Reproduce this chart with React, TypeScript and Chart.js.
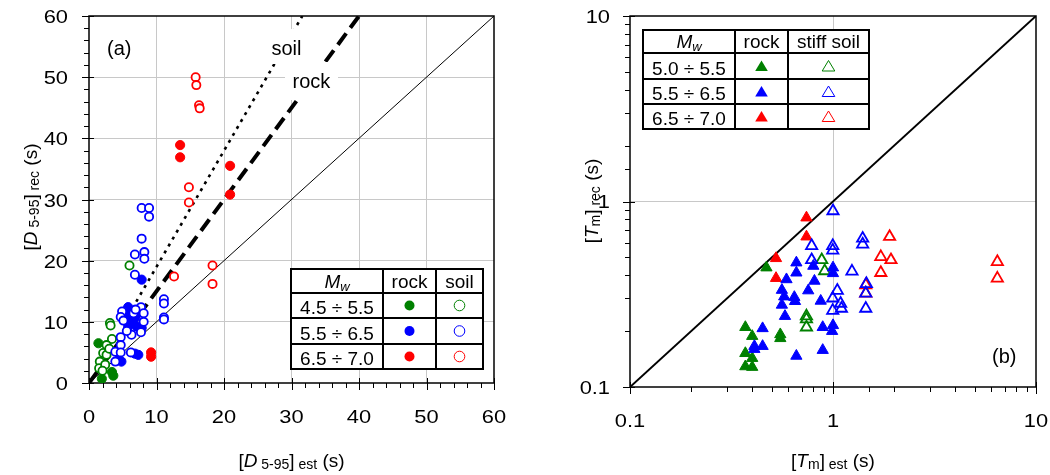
import React, { useEffect, useRef } from 'react';
import { Chart, registerables } from 'chart.js';

Chart.register(...registerables);

type Pt = [number, number];
type Part = { t: string; size: number; italic?: boolean; dy?: number };

const GREEN = '#008000';
const BLUE = '#0000ff';
const RED = '#ff0000';
const GRID = '#c8c8c8';
const FONT = '"Liberation Sans", Arial, Helvetica, sans-serif';

// ---------- Panel (a): [D5-95] est vs [D5-95] rec (s) ----------
const aTickValues = [0, 10, 20, 30, 40, 50, 60];
const aTickLabels = ['0', '10', '20', '30', '40', '50', '60'];

const aRockGreen: Pt[] = [[1.4, 6.5], [1.9, 0.7], [3.4, 1.8], [3.6, 1.2]];
const aSoilGreen: Pt[] = [
  [6.0, 19.2], [3.1, 9.8], [3.2, 9.4], [3.4, 7.2], [2.6, 6.2], [2.1, 4.9],
  [2.6, 4.6], [1.6, 3.5], [1.5, 2.4], [2.4, 3.0], [3.0, 5.6], [2.0, 2.0],
];
const aRockBlue: Pt[] = [
  [7.8, 16.9], [5.8, 12.4], [6.3, 11.7], [6.6, 9.8], [5.8, 9.2], [7.1, 9.2],
  [7.8, 9.0], [7.3, 4.6], [6.8, 4.8], [4.8, 3.5], [5.5, 10.5], [6.9, 10.8],
  [4.4, 3.8], [6.0, 11.0],
];
const aSoilBlue: Pt[] = [
  [7.8, 28.6], [8.9, 28.6], [8.9, 27.2], [7.8, 23.6], [6.8, 21.0], [8.2, 21.4],
  [8.2, 20.3], [6.8, 17.7], [11.1, 13.7], [11.1, 13.0], [11.1, 10.7], [11.1, 10.4],
  [4.9, 11.7], [4.7, 10.8], [5.1, 10.2], [6.6, 11.4], [7.7, 12.4], [8.1, 11.4],
  [8.1, 10.0], [7.7, 8.3], [6.3, 7.9], [4.7, 7.5], [4.7, 6.2], [3.9, 5.1],
  [4.7, 5.0], [6.2, 5.0], [3.9, 3.5], [5.6, 8.5], [6.9, 12.0],
];
const aRockRed: Pt[] = [[13.5, 38.9], [13.5, 36.9], [20.9, 35.5], [20.9, 30.8], [9.2, 5.0], [9.2, 4.3]];
const aSoilRed: Pt[] = [
  [15.8, 50.0], [15.9, 48.7], [16.3, 45.4], [16.4, 44.9], [14.8, 32.0],
  [14.8, 29.5], [12.6, 17.4], [18.3, 19.2], [18.3, 16.2],
];
const aOneToOne: Pt[] = [[0, 0], [60, 60]];
const aRockFit: Pt[] = [[0, 0], [40, 60]];
const aSoilFit: Pt[] = [[7, 13.3], [31.6, 60]];

const aLegendHeads = ['rock', 'soil'];
const aLegendRows = ['4.5 ÷ 5.5', '5.5 ÷ 6.5', '6.5 ÷ 7.0'];

// ---------- Panel (b): [Tm] est vs [Tm] rec (s) ----------
const bTickValues = [0.1, 1, 10];
const bTickLabels = ['0.1', '1', '10'];

const bRockGreen: Pt[] = [
  [0.47, 0.44], [0.37, 0.21], [0.40, 0.188], [0.37, 0.152], [0.40, 0.143],
  [0.37, 0.129], [0.40, 0.128], [0.55, 0.192], [0.55, 0.183],
];
const bSoilGreen: Pt[] = [[0.74, 0.241], [0.74, 0.232], [0.74, 0.21], [0.88, 0.484], [0.91, 0.422]];
const bRockBlue: Pt[] = [
  [0.66, 0.468], [0.66, 0.413], [0.59, 0.38], [0.56, 0.333], [0.575, 0.307],
  [0.645, 0.305], [0.65, 0.29], [0.56, 0.277], [0.58, 0.241], [0.81, 0.373],
  [0.755, 0.331], [0.87, 0.291], [0.80, 0.449], [1.0, 0.44], [1.0, 0.41],
  [0.89, 0.21], [1.0, 0.215], [0.99, 0.2], [0.89, 0.158], [0.66, 0.147],
  [0.45, 0.207], [0.45, 0.166], [0.41, 0.166], [0.41, 0.16],
];
const bSoilBlue: Pt[] = [
  [1.0, 0.889], [0.785, 0.577], [0.997, 0.577], [0.997, 0.545], [1.40, 0.632],
  [1.40, 0.588], [0.785, 0.484], [1.24, 0.42], [1.05, 0.331], [0.997, 0.301],
  [1.09, 0.282], [1.1, 0.265], [0.997, 0.258], [1.46, 0.36], [1.45, 0.32], [1.45, 0.265],
];
const bRockRed: Pt[] = [[0.74, 0.818], [0.74, 0.646], [0.524, 0.494], [0.524, 0.386]];
const bSoilRed: Pt[] = [
  [1.9, 0.646], [1.72, 0.503], [1.93, 0.484], [1.72, 0.413], [1.45, 0.354],
  [1.45, 0.32], [6.45, 0.473], [6.45, 0.385],
];
const bOneToOne: Pt[] = [[0.1, 0.1], [10, 10]];

const bLegendHeads = ['rock', 'stiff soil'];
const bLegendRows = ['5.0 ÷ 5.5', '5.5 ÷ 6.5', '6.5 ÷ 7.0'];

const aXTitle: Part[] = [
  { t: '[', size: 19 }, { t: 'D', size: 19, italic: true }, { t: ' 5-95', size: 14, dy: 2 },
  { t: ']', size: 19 }, { t: ' est', size: 14, dy: 2 }, { t: ' (s)', size: 19 },
];
const aYTitle: Part[] = [
  { t: '[', size: 19 }, { t: 'D', size: 19, italic: true }, { t: ' 5-95', size: 14, dy: 2 },
  { t: ']', size: 19 }, { t: ' rec', size: 14, dy: 2 }, { t: ' (s)', size: 19 },
];
const bXTitle: Part[] = [
  { t: '[', size: 19 }, { t: 'T', size: 19, italic: true }, { t: 'm', size: 14, dy: 2 },
  { t: ']', size: 19 }, { t: ' est', size: 14, dy: 2 }, { t: ' (s)', size: 19 },
];
const bYTitle: Part[] = [
  { t: '[', size: 19 }, { t: 'T', size: 19, italic: true }, { t: 'm', size: 14, dy: 2 },
  { t: ']', size: 19 }, { t: ' rec', size: 14, dy: 2 }, { t: ' (s)', size: 19 },
];

// ---------- helpers ----------
const toXY = (pts: Pt[]) => pts.map(([x, y]) => ({ x, y }));
const fontOf = (p: Part) => `${p.italic ? 'italic ' : ''}${p.size}px ${FONT}`;

function drawRich(ctx: CanvasRenderingContext2D, parts: Part[], x: number, y: number, rotate: boolean, sx = 1) {
  ctx.save();
  ctx.translate(x, y);
  if (rotate) ctx.rotate(-Math.PI / 2);
  ctx.scale(sx, 1);
  const widths = parts.map((p) => { ctx.font = fontOf(p); return ctx.measureText(p.t).width; });
  const total = widths.reduce((a, b) => a + b, 0);
  let cx = -total / 2;
  ctx.fillStyle = '#000';
  ctx.textAlign = 'left';
  ctx.textBaseline = 'alphabetic';
  parts.forEach((p, i) => { ctx.font = fontOf(p); ctx.fillText(p.t, cx, p.dy || 0); cx += widths[i]; });
  ctx.restore();
}

function pointSet(pts: Pt[], color: string, filled: boolean, style: 'circle' | 'triangle') {
  const circle = style === 'circle';
  return {
    type: 'scatter' as const,
    data: toXY(pts),
    showLine: false,
    pointStyle: style,
    pointRadius: circle ? (filled ? 4.6 : 4.1) : 6.5,
    pointBackgroundColor: filled ? color : (circle ? '#ffffff' : 'rgba(0,0,0,0)'),
    backgroundColor: filled ? color : (circle ? '#ffffff' : 'rgba(0,0,0,0)'),
    pointBorderColor: color,
    borderColor: color,
    pointBorderWidth: filled ? 1 : 1.8,
    borderWidth: filled ? 1 : 1.8,
    order: 1,
  };
}

function lineSet(pts: Pt[], width: number, dash: number[]) {
  return {
    type: 'scatter' as const,
    data: toXY(pts),
    showLine: true,
    borderColor: '#000',
    backgroundColor: '#000',
    borderWidth: width,
    borderDash: dash,
    pointRadius: 0,
    fill: false,
    order: 10,
  };
}

const isMajorLin = (v: number) => Math.abs(v % 10) < 1e-9;
const isMajorLog = (v: number) => Math.abs(Math.log10(v) - Math.round(Math.log10(v))) < 1e-6;

function drawFrameTicks(chart: any, isMajor: (v: number) => boolean) {
  const { ctx, chartArea: a } = chart;
  const xs = chart.scales.x;
  const ys = chart.scales.y;
  ctx.save();
  ctx.strokeStyle = '#000';
  ctx.lineWidth = 1;
  ctx.beginPath();
  for (const t of xs.ticks) {
    const px = Math.round(xs.getPixelForValue(t.value)) + 0.5;
    const m = isMajor(t.value);
    ctx.moveTo(px, a.bottom + (m ? 7 : 5));
    ctx.lineTo(px, a.bottom - (m ? 5 : 0));
  }
  for (const t of ys.ticks) {
    const py = Math.round(ys.getPixelForValue(t.value)) + 0.5;
    const m = isMajor(t.value);
    ctx.moveTo(a.left - (m ? 7 : 5), py);
    ctx.lineTo(a.left + (m ? 5 : 0), py);
  }
  ctx.stroke();
  ctx.lineWidth = 1.5;
  ctx.strokeRect(a.left, a.top, a.right - a.left, a.bottom - a.top);
  ctx.restore();
}

function drawTickLabels(chart: any, values: number[], labels: string[], xBase: number, yGap: number, yOff: number) {
  const { ctx, chartArea: a } = chart;
  const xs = chart.scales.x;
  const ys = chart.scales.y;
  ctx.save();
  ctx.fillStyle = '#000';
  ctx.font = `19px ${FONT}`;
  ctx.textBaseline = 'alphabetic';
  values.forEach((v, i) => {
    const px = xs.getPixelForValue(v);
    ctx.save();
    ctx.translate(px, xBase);
    ctx.scale(1.15, 1);
    ctx.textAlign = 'center';
    ctx.fillText(labels[i], 0, 0);
    ctx.restore();
    const py = ys.getPixelForValue(v);
    ctx.save();
    ctx.translate(a.left - yGap, py + yOff);
    ctx.scale(1.15, 1);
    ctx.textAlign = 'right';
    ctx.fillText(labels[i], 0, 0);
    ctx.restore();
  });
  ctx.restore();
}

type TableSpec = {
  xs: number[];
  ys: number[];
  heads: string[];
  rows: string[];
  colors: string[];
  marker: 'circle' | 'triangle';
};

function drawMarker(ctx: CanvasRenderingContext2D, kind: 'circle' | 'triangle', filled: boolean, color: string, cx: number, cy: number) {
  ctx.save();
  ctx.beginPath();
  if (kind === 'circle') {
    ctx.arc(cx, cy, filled ? 5 : 5.3, 0, Math.PI * 2);
  } else {
    ctx.moveTo(cx, cy - 5.5);
    ctx.lineTo(cx + 6.3, cy + 5);
    ctx.lineTo(cx - 6.3, cy + 5);
    ctx.closePath();
  }
  if (filled) {
    ctx.fillStyle = color;
    ctx.fill();
  } else {
    ctx.strokeStyle = color;
    ctx.lineWidth = 1;
    ctx.stroke();
  }
  ctx.restore();
}

function drawTable(ctx: CanvasRenderingContext2D, s: TableSpec) {
  const { xs, ys } = s;
  ctx.save();
  ctx.fillStyle = '#fff';
  ctx.fillRect(xs[0], ys[0], xs[3] - xs[0], ys[4] - ys[0]);
  ctx.strokeStyle = '#000';
  ctx.lineWidth = 2;
  ctx.beginPath();
  for (const x of xs) { ctx.moveTo(x, ys[0]); ctx.lineTo(x, ys[4]); }
  for (const y of ys) { ctx.moveTo(xs[0] - 1, y); ctx.lineTo(xs[3] + 1, y); }
  ctx.stroke();
  ctx.fillStyle = '#000';
  ctx.textAlign = 'center';
  ctx.textBaseline = 'alphabetic';
  const c0 = (xs[0] + xs[1]) / 2;
  const c1 = (xs[1] + xs[2]) / 2;
  const c2 = (xs[2] + xs[3]) / 2;
  drawRich(ctx, [{ t: 'M', size: 19, italic: true }, { t: 'w', size: 13, italic: true, dy: 3 }], c0, ys[1] - 5, false);
  ctx.font = `19px ${FONT}`;
  ctx.fillStyle = '#000';
  ctx.textAlign = 'center';
  ctx.fillText(s.heads[0], c1, ys[1] - 5);
  ctx.fillText(s.heads[1], c2, ys[1] - 5);
  s.rows.forEach((r, i) => {
    ctx.font = `19px ${FONT}`;
    ctx.fillStyle = '#000';
    ctx.textAlign = 'center';
    ctx.fillText(r, c0, ys[i + 2] - 4.5);
    const cy = (ys[i + 1] + ys[i + 2]) / 2;
    drawMarker(ctx, s.marker, true, s.colors[i], c1, cy);
    drawMarker(ctx, s.marker, false, s.colors[i], c2, cy);
  });
  ctx.restore();
}

function labelBox(ctx: CanvasRenderingContext2D, text: string, bx: number, by: number, bw: number, bh: number, tx: number, ty: number) {
  ctx.save();
  ctx.fillStyle = '#fff';
  ctx.fillRect(bx, by, bw, bh);
  ctx.fillStyle = '#000';
  ctx.font = `20px ${FONT}`;
  ctx.textAlign = 'left';
  ctx.textBaseline = 'alphabetic';
  ctx.fillText(text, tx, ty);
  ctx.restore();
}

function gridColor(isMaj: (v: number) => boolean, lo: number, hi: number) {
  return (c: any) => {
    const v = c.tick ? c.tick.value : NaN;
    if (!isFinite(v)) return 'rgba(0,0,0,0)';
    if (Math.abs(v - lo) < 1e-9 || Math.abs(v - hi) < 1e-9) return 'rgba(0,0,0,0)';
    return isMaj(v) ? GRID : 'rgba(0,0,0,0)';
  };
}

function configA(): any {
  const plugin = {
    id: 'panelA',
    beforeDatasetsDraw(chart: any) {
      drawFrameTicks(chart, isMajorLin);
    },
    afterDatasetsDraw(chart: any) {
      const ctx = chart.ctx;
      labelBox(ctx, 'soil', 266, 29, 36, 35, 271.5, 55);
      labelBox(ctx, 'rock', 285, 62, 53, 38, 292.5, 88);
      ctx.save();
      ctx.fillStyle = '#000';
      ctx.font = `20px ${FONT}`;
      ctx.textAlign = 'left';
      ctx.fillText('(a)', 107, 55);
      ctx.restore();
    },
    afterDraw(chart: any) {
      const ctx = chart.ctx;
      drawTickLabels(chart, aTickValues, aTickLabels, 423, 21, 7);
      drawTable(ctx, {
        xs: [291, 383, 436, 483], ys: [269, 293, 318, 344, 369],
        heads: aLegendHeads, rows: aLegendRows, colors: [GREEN, BLUE, RED], marker: 'circle',
      });
      drawRich(ctx, aXTitle, 291.5, 467, false);
      drawRich(ctx, aYTitle, 37, 197, true);
    },
  };
  return {
    type: 'scatter',
    data: {
      datasets: [
        lineSet(aOneToOne, 1, []),
        lineSet(aRockFit, 4, [14, 7]),
        lineSet(aSoilFit, 2.6, [3, 5]),
        pointSet(aSoilBlue, BLUE, false, 'circle'),
        pointSet(aRockBlue, BLUE, true, 'circle'),
        pointSet(aSoilGreen, GREEN, false, 'circle'),
        pointSet(aRockGreen, GREEN, true, 'circle'),
        pointSet(aSoilRed, RED, false, 'circle'),
        pointSet(aRockRed, RED, true, 'circle'),
      ],
    },
    options: {
      responsive: false,
      animation: false,
      events: [],
      layout: { padding: { left: 0, right: 26, top: 16, bottom: 0 } },
      plugins: { legend: { display: false }, tooltip: { enabled: false } },
      scales: {
        x: {
          type: 'linear', min: 0, max: 60,
          afterFit: (s: any) => { s.height = 92; },
          ticks: { stepSize: 2, display: false, autoSkip: false },
          grid: { color: gridColor(isMajorLin, 0, 60), drawTicks: false, lineWidth: 1 },
          border: { display: false },
        },
        y: {
          type: 'linear', min: 0, max: 60,
          afterFit: (s: any) => { s.width = 89; },
          ticks: { stepSize: 2, display: false, autoSkip: false },
          grid: { color: gridColor(isMajorLin, 0, 60), drawTicks: false, lineWidth: 1 },
          border: { display: false },
        },
      },
    },
    plugins: [plugin],
  };
}

function configB(): any {
  const plugin = {
    id: 'panelB',
    beforeDatasetsDraw(chart: any) {
      drawFrameTicks(chart, isMajorLog);
    },
    afterDatasetsDraw(chart: any) {
      const ctx = chart.ctx;
      ctx.save();
      ctx.fillStyle = '#000';
      ctx.font = `20px ${FONT}`;
      ctx.textAlign = 'left';
      ctx.fillText('(b)', 472, 363);
      ctx.restore();
    },
    afterDraw(chart: any) {
      const ctx = chart.ctx;
      drawTickLabels(chart, bTickValues, bTickLabels, 427, 20, 6.5);
      drawTable(ctx, {
        xs: [123, 215, 268, 349], ys: [30, 53, 79, 104, 129],
        heads: bLegendHeads, rows: bLegendRows, colors: [GREEN, BLUE, RED], marker: 'triangle',
      });
      drawRich(ctx, bXTitle, 313, 467, false);
      drawRich(ctx, bYTitle, 78, 201, true);
    },
  };
  return {
    type: 'scatter',
    data: {
      datasets: [
        lineSet(bOneToOne, 2, []),
        pointSet(bRockBlue, BLUE, true, 'triangle'),
        pointSet(bSoilBlue, BLUE, false, 'triangle'),
        pointSet(bRockGreen, GREEN, true, 'triangle'),
        pointSet(bSoilGreen, GREEN, false, 'triangle'),
        pointSet(bRockRed, RED, true, 'triangle'),
        pointSet(bSoilRed, RED, false, 'triangle'),
      ],
    },
    options: {
      responsive: false,
      animation: false,
      events: [],
      layout: { padding: { left: 0, right: 14, top: 16, bottom: 0 } },
      plugins: { legend: { display: false }, tooltip: { enabled: false } },
      scales: {
        x: {
          type: 'logarithmic', min: 0.1, max: 10,
          afterFit: (s: any) => { s.height = 88; },
          ticks: { display: false, autoSkip: false },
          grid: { color: gridColor(isMajorLog, 0.1, 10), drawTicks: false, lineWidth: 1 },
          border: { display: false },
        },
        y: {
          type: 'logarithmic', min: 0.1, max: 10,
          afterFit: (s: any) => { s.width = 110; },
          ticks: { display: false, autoSkip: false },
          grid: { color: gridColor(isMajorLog, 0.1, 10), drawTicks: false, lineWidth: 1 },
          border: { display: false },
        },
      },
    },
    plugins: [plugin],
  };
}

export default function App() {
  const refA = useRef<HTMLCanvasElement>(null);
  const refB = useRef<HTMLCanvasElement>(null);
  useEffect(() => {
    const ca = new Chart(refA.current as HTMLCanvasElement, configA());
    const cb = new Chart(refB.current as HTMLCanvasElement, configB());
    return () => {
      ca.destroy();
      cb.destroy();
    };
  }, []);
  return (
    <div style={{ position: 'absolute', left: 0, top: 0, width: 1050, height: 475, background: '#fff' }}>
      <canvas ref={refA} width={520} height={475} style={{ position: 'absolute', left: 0, top: 0 }} />
      <canvas ref={refB} width={530} height={475} style={{ position: 'absolute', left: 520, top: 0 }} />
    </div>
  );
}
